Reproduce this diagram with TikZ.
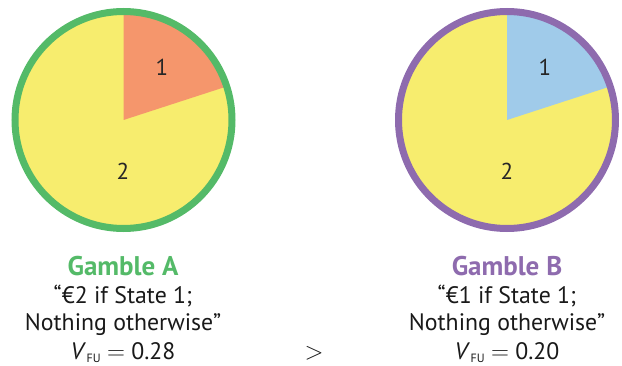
\documentclass[tikz,border=0pt]{standalone}
\usepackage{fontspec}
\setmainfont{PT Sans}
\definecolor{ringgreen}{RGB}{84,186,104}
\definecolor{ringpurple}{RGB}{142,107,174}
\definecolor{pieyellow}{RGB}{247,237,110}
\definecolor{wedgeorange}{RGB}{245,150,108}
\definecolor{wedgeblue}{RGB}{160,203,234}
\newcommand{\vfu}{\textit{V}\kern0.5pt\raisebox{-3pt}{\fontsize{12}{12}\selectfont FU}}
\tikzset{
  ring/.style={line width=7pt},
  slicelabel/.style={font=\fontsize{23}{23}\selectfont, text=black!85},
  caption/.style={anchor=base, font=\fontsize{23.8}{24}\selectfont, text=black!90, inner sep=0pt},
  title/.style={anchor=base, font=\fontsize{27}{27}\selectfont\bfseries, inner sep=0pt},
}
\begin{document}
\begin{tikzpicture}[x=1pt,y=1pt]
  \useasboundingbox (0,0) rectangle (622,365);
  % pie centres
  \coordinate (ca) at (123.5,245);
  \coordinate (cb) at (507,245);
  % Gamble A pie: state 1 takes one fifth of the circle
  \fill[pieyellow] (ca) circle (108.5);
  \fill[wedgeorange] (ca) -- ++(18:108.5) arc (18:90:108.5) -- cycle;
  \draw[ring, ringgreen] (ca) circle (108.5);
  % Gamble B pie
  \fill[pieyellow] (cb) circle (108.5);
  \fill[wedgeblue] (cb) -- ++(18:108.5) arc (18:90:108.5) -- cycle;
  \draw[ring, ringpurple] (cb) circle (108.5);
  % state labels
  \node[slicelabel] (a1) at (162,298) {1};
  \node[slicelabel] (a2) at (123,194) {2};
  \node[slicelabel] (b1) at (545,298) {1};
  \node[slicelabel] (b2) at (507,194) {2};
  % captions
  \node[title, text=ringgreen] (ta) at (123,90) {Gamble A};
  \node[caption] (la1) at (123,62) {“€2 if State 1;};
  \node[caption] (la2) at (123,35) {Nothing otherwise”};
  \node[caption] (la3) at (123,6) {\vfu\ $=$ 0.28};
  \node[title, text=ringpurple] (tb) at (507,90) {Gamble B};
  \node[caption] (lb1) at (507,62) {“€1 if State 1;};
  \node[caption] (lb2) at (507,35) {Nothing otherwise”};
  \node[caption] (lb3) at (507,6) {\vfu\ $=$ 0.20};
  \node[caption, font=\fontsize{26}{26}\selectfont] (gt) at (314,6) {$>$};
\end{tikzpicture}
\end{document}
